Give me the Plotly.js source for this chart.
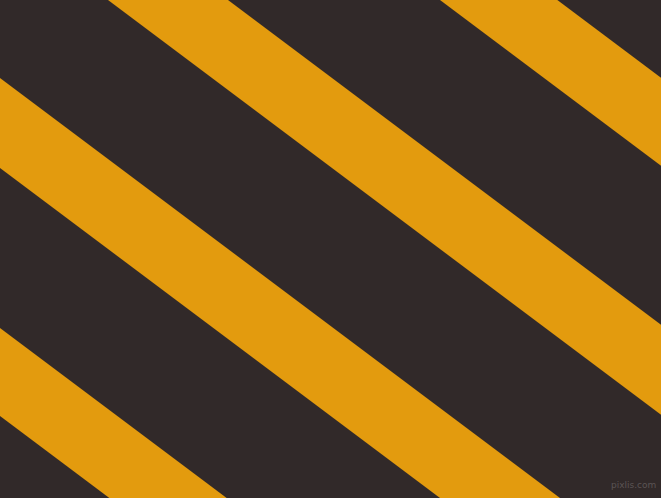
<!DOCTYPE html>
<html>
<head>
<meta charset="utf-8">
<script src="https://cdn.plot.ly/plotly-3.0.1.min.js"></script>
<style>
  html, body { margin: 0; padding: 0; background: #312929; }
  #chart { width: 661px; height: 498px; }
</style>
</head>
<body>
<div id="chart"></div>
<script>
// stripe band edges, as intercepts of y = c + slope * x (pixel units, y down)
var stripeNames = ['stripe 1', 'stripe 2', 'stripe 3', 'stripe 4'];
var stripeFrom = [-418, -171, 78, 328];
var stripeTo = [-330, -81, 168, 416];
var slope = 0.75;

var bgColor = '#312929';
var stripeColor = '#e39b0e';

var xEnds = [-50, 720];

var traces = stripeNames.map(function (name, i) {
    var a = stripeFrom[i], b = stripeTo[i];
    return {
        type: 'scatter',
        mode: 'lines',
        name: name,
        x: [xEnds[0], xEnds[1], xEnds[1], xEnds[0], xEnds[0]],
        y: [a + slope * xEnds[0], a + slope * xEnds[1],
            b + slope * xEnds[1], b + slope * xEnds[0], a + slope * xEnds[0]],
        fill: 'toself',
        fillcolor: stripeColor,
        line: { width: 0, color: stripeColor },
        hoverinfo: 'skip'
    };
});

var layout = {
    width: 661,
    height: 498,
    margin: { l: 0, r: 0, t: 0, b: 0 },
    paper_bgcolor: bgColor,
    plot_bgcolor: bgColor,
    showlegend: false,
    xaxis: { range: [0, 661], visible: false, fixedrange: true },
    yaxis: { range: [498, 0], visible: false, fixedrange: true },
    annotations: [{
        text: 'pixlis.com',
        xref: 'paper', yref: 'paper',
        x: 0.995, y: 0.012,
        xanchor: 'right', yanchor: 'bottom',
        showarrow: false,
        font: { family: 'DejaVu Sans', size: 9, color: '#5b5454' }
    }]
};

Plotly.newPlot('chart', traces, layout, { displayModeBar: false, staticPlot: true });
</script>
</body>
</html>
